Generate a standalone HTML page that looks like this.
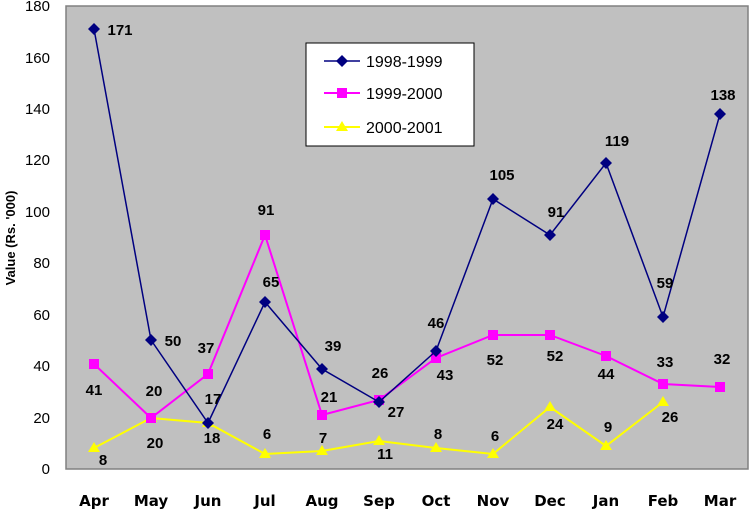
<!DOCTYPE html>
<html><head><style>body{margin:0;background:#fff}svg{display:block}</style></head><body>
<svg width="750" height="511" viewBox="0 0 750 511" xmlns="http://www.w3.org/2000/svg" font-family="Liberation Sans, Arial, sans-serif">
<rect x="66" y="6" width="682" height="463" fill="#c0c0c0" stroke="#808080" stroke-width="1.5"/>
<g font-size="15" text-anchor="end" fill="#000">
<text x="50" y="474">0</text><text x="50" y="423">20</text><text x="50" y="371">40</text><text x="50" y="320">60</text><text x="50" y="268">80</text><text x="50" y="217">100</text><text x="50" y="165">120</text><text x="50" y="114">140</text><text x="50" y="63">160</text><text x="50" y="11">180</text>
</g>
<text transform="translate(15,238) rotate(-90)" font-size="13" font-weight="bold" text-anchor="middle">Value (Rs. '000)</text>
<g font-size="15" font-weight="bold" text-anchor="middle" font-family="DejaVu Sans, sans-serif">
<text x="94" y="506">Apr</text><text x="151" y="506">May</text><text x="208" y="506">Jun</text><text x="265" y="506">Jul</text><text x="322" y="506">Aug</text><text x="379" y="506">Sep</text><text x="436" y="506">Oct</text><text x="493" y="506">Nov</text><text x="550" y="506">Dec</text><text x="606" y="506">Jan</text><text x="663" y="506">Feb</text><text x="720" y="506">Mar</text>
</g>
<polyline fill="none" stroke="#ffff00" stroke-width="2" points="94,448 151,418 208,423 265,454 322,451 379,441 436,448 493,454 550,407 606,446 663,402"/>
<g fill="#ffff00"><path d="M94,442l6,10h-12z"/><path d="M151,412l6,10h-12z"/><path d="M208,417l6,10h-12z"/><path d="M265,448l6,10h-12z"/><path d="M322,445l6,10h-12z"/><path d="M379,435l6,10h-12z"/><path d="M436,442l6,10h-12z"/><path d="M493,448l6,10h-12z"/><path d="M550,401l6,10h-12z"/><path d="M606,440l6,10h-12z"/><path d="M663,396l6,10h-12z"/></g>
<polyline fill="none" stroke="#ff00ff" stroke-width="2" points="94,364 151,418 208,374 265,235 322,415 379,400 436,358 493,335 550,335 606,356 663,384 720,387"/>
<g fill="#ff00ff"><rect x="89" y="359" width="10" height="10"/><rect x="146" y="413" width="10" height="10"/><rect x="203" y="369" width="10" height="10"/><rect x="260" y="230" width="10" height="10"/><rect x="317" y="410" width="10" height="10"/><rect x="374" y="395" width="10" height="10"/><rect x="431" y="353" width="10" height="10"/><rect x="488" y="330" width="10" height="10"/><rect x="545" y="330" width="10" height="10"/><rect x="601" y="351" width="10" height="10"/><rect x="658" y="379" width="10" height="10"/><rect x="715" y="382" width="10" height="10"/></g>
<polyline fill="none" stroke="#000080" stroke-width="1.5" points="94,29 151,340 208,423 265,302 322,369 379,402 436,351 493,199 550,235 606,163 663,317 720,114"/>
<g fill="#000080"><path d="M94,23l6,6l-6,6l-6,-6z"/><path d="M151,334l6,6l-6,6l-6,-6z"/><path d="M208,417l6,6l-6,6l-6,-6z"/><path d="M265,296l6,6l-6,6l-6,-6z"/><path d="M322,363l6,6l-6,6l-6,-6z"/><path d="M379,396l6,6l-6,6l-6,-6z"/><path d="M436,345l6,6l-6,6l-6,-6z"/><path d="M493,193l6,6l-6,6l-6,-6z"/><path d="M550,229l6,6l-6,6l-6,-6z"/><path d="M606,157l6,6l-6,6l-6,-6z"/><path d="M663,311l6,6l-6,6l-6,-6z"/><path d="M720,108l6,6l-6,6l-6,-6z"/></g>
<g font-size="15" font-weight="bold" text-anchor="middle">
<text x="120" y="35">171</text><text x="173" y="346">50</text><text x="206" y="353">37</text><text x="213" y="404">17</text><text x="266" y="215">91</text><text x="271" y="287">65</text><text x="333" y="351">39</text><text x="380" y="378">26</text><text x="436" y="328">46</text><text x="502" y="180">105</text><text x="556" y="217">91</text><text x="617" y="146">119</text><text x="665" y="288">59</text><text x="723" y="100">138</text>
<text x="94" y="395">41</text><text x="154" y="396">20</text><text x="329" y="402">21</text><text x="396" y="417">27</text><text x="445" y="380">43</text><text x="495" y="365">52</text><text x="555" y="361">52</text><text x="606" y="379">44</text><text x="665" y="367">33</text><text x="722" y="364">32</text>
<text x="103" y="465">8</text><text x="155" y="448">20</text><text x="212" y="443">18</text><text x="267" y="439">6</text><text x="323" y="443">7</text><text x="385" y="459">11</text><text x="438" y="439">8</text><text x="495" y="441">6</text><text x="555" y="429">24</text><text x="608" y="432">9</text><text x="670" y="422">26</text>
</g>
<rect x="306" y="43" width="168" height="103" fill="#fff" stroke="#000" stroke-width="1"/>
<line x1="324" y1="61" x2="360" y2="61" stroke="#000080" stroke-width="1.5"/><path d="M342,55l6,6l-6,6l-6,-6z" fill="#000080"/>
<line x1="324" y1="93" x2="360" y2="93" stroke="#ff00ff" stroke-width="2"/><rect x="337" y="88" width="10" height="10" fill="#ff00ff"/>
<line x1="324" y1="127" x2="360" y2="127" stroke="#ffff00" stroke-width="2"/><path d="M342,121l6,10h-12z" fill="#ffff00"/>
<g font-size="16"><text x="366" y="67">1998-1999</text><text x="366" y="99">1999-2000</text><text x="366" y="133">2000-2001</text></g>
</svg>
</body></html>
